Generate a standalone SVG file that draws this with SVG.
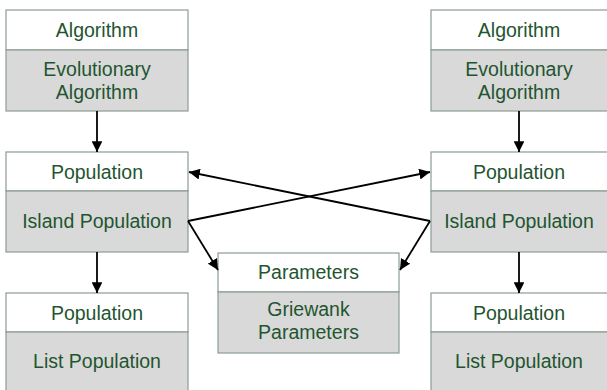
<svg xmlns="http://www.w3.org/2000/svg" width="607" height="390" viewBox="0 0 607 390">
  <style>
    .hd { fill: #ffffff; stroke: #8c9c92; stroke-width: 1.2; }
    .bd { fill: #d9d9d9; stroke: #8c9c92; stroke-width: 1.2; }
    text { font-family: "Liberation Sans", Arial, sans-serif; font-size: 19.5px; fill: #1f5530; text-anchor: middle; }
    .edge { stroke: #000000; stroke-width: 1.8; fill: none; marker-end: url(#arrow); }
  </style>
  <defs>
    <marker id="arrow" viewBox="0 0 10 10" refX="10" refY="5" markerWidth="6" markerHeight="6" markerUnits="strokeWidth" orient="auto">
      <path d="M0,0 L10,5 L0,10 Z" fill="#000000"/>
    </marker>
  </defs>

  <rect width="607" height="390" fill="#ffffff"/>

  <!-- left column -->
  <g id="algo-left">
    <rect class="hd" x="6" y="10" width="182" height="40"/>
    <rect class="bd" x="6" y="50" width="182" height="61"/>
    <text x="97" y="37">Algorithm</text>
    <text x="97" y="76">Evolutionary</text>
    <text x="97" y="99">Algorithm</text>
  </g>
  <g id="island-left">
    <rect class="hd" x="6" y="152" width="182" height="39"/>
    <rect class="bd" x="6" y="191" width="182" height="61"/>
    <text x="97" y="179">Population</text>
    <text x="97" y="228">Island Population</text>
  </g>
  <g id="list-left">
    <rect class="hd" x="6" y="293" width="182" height="39"/>
    <rect class="bd" x="6" y="332" width="182" height="60"/>
    <text x="97" y="320">Population</text>
    <text x="97" y="368">List Population</text>
  </g>

  <!-- shared parameters -->
  <g id="params">
    <rect class="hd" x="218" y="253" width="181" height="39"/>
    <rect class="bd" x="218" y="292" width="181" height="61"/>
    <text x="308.5" y="279">Parameters</text>
    <text x="308.5" y="316">Griewank</text>
    <text x="308.5" y="339">Parameters</text>
  </g>

  <!-- right column -->
  <g id="algo-right">
    <rect class="hd" x="431" y="10" width="178" height="40"/>
    <rect class="bd" x="431" y="50" width="178" height="61"/>
    <text x="519" y="37">Algorithm</text>
    <text x="519" y="76">Evolutionary</text>
    <text x="519" y="99">Algorithm</text>
  </g>
  <g id="island-right">
    <rect class="hd" x="431" y="152" width="178" height="39"/>
    <rect class="bd" x="431" y="191" width="178" height="61"/>
    <text x="519" y="179">Population</text>
    <text x="519" y="228">Island Population</text>
  </g>
  <g id="list-right">
    <rect class="hd" x="431" y="293" width="178" height="39"/>
    <rect class="bd" x="431" y="332" width="178" height="60"/>
    <text x="519" y="320">Population</text>
    <text x="519" y="368">List Population</text>
  </g>

  <!-- connectors -->
  <g id="connectors">
    <line class="edge" x1="97" y1="111" x2="97" y2="152"/>
    <line class="edge" x1="97" y1="252" x2="97" y2="293"/>
    <line class="edge" x1="519" y1="111" x2="519" y2="152"/>
    <line class="edge" x1="519" y1="252" x2="519" y2="293"/>
    <line class="edge" x1="188" y1="221" x2="430" y2="172"/>
    <line class="edge" x1="430" y1="221" x2="189" y2="172"/>
    <line class="edge" x1="188" y1="221" x2="218" y2="270"/>
    <line class="edge" x1="430" y1="221" x2="400" y2="270"/>
  </g>
</svg>
